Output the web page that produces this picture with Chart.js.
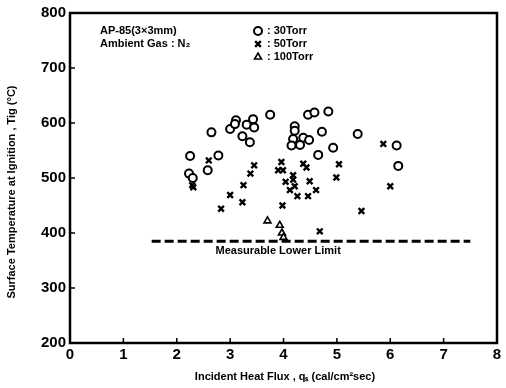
<!DOCTYPE html>
<html>
<head>
<meta charset="utf-8">
<script src="https://cdn.jsdelivr.net/npm/chart.js@4.4.0/dist/chart.umd.min.js"></script>
<style>
  body { margin: 0; background: #fff; }
</style>
</head>
<body>
<canvas id="chart" width="506" height="388"></canvas>
<script>
// 30 Torr (circles)
const flux30 = [2.25, 2.23, 2.30, 2.58, 2.65, 2.78, 3.00, 3.11, 3.09, 3.23, 3.37, 3.31, 3.43, 3.45, 3.75,
                4.21, 4.21, 4.18, 4.37, 4.48, 4.15, 4.31, 4.46, 4.58, 4.84, 4.72, 4.93, 4.65, 5.39, 6.12, 6.15];
const temp30 = [540, 508, 500, 514, 583, 541, 589, 605, 598, 576, 565, 597, 607, 592, 615,
                594, 586, 571, 573, 569, 559, 560, 615, 619, 621, 584, 555, 542, 580, 559, 522];

// 50 Torr (crosses)
const flux50 = [2.29, 2.31, 2.60, 2.83, 3.00, 3.23, 3.25, 3.38, 3.45, 3.90, 3.96, 3.99, 4.37, 4.43, 5.04,
                4.99, 4.18, 4.18, 4.04, 4.21, 4.49, 4.12, 4.26, 4.46, 4.61, 6.00, 3.98, 5.46, 4.68, 5.87];
const temp50 = [487, 483, 532, 444, 469, 456, 487, 508, 523, 514, 529, 514, 526, 519, 525,
                501, 505, 497, 493, 485, 494, 478, 467, 467, 478, 485, 450, 440, 403, 562];

// 100 Torr (triangles)
const flux100 = [3.70, 3.93, 3.97, 4.00];
const temp100 = [422, 414, 400, 392];

// measurable lower limit
const limitFlux = [1.53, 7.5];
const limitTemp = [385, 385];

const xTicks = [0, 1, 2, 3, 4, 5, 6, 7, 8];
const yTicks = [200, 300, 400, 500, 600, 700, 800];

const FONT = '"Liberation Sans", Arial, sans-serif';

function pts(xs, ys) {
    return xs.map((v, i) => ({ x: v, y: ys[i] }));
}

// frame, inward ticks and text labels
const decor = {
    id: 'decor',
    afterDatasetsDraw(chart) {
        const { ctx, chartArea: a, scales: { x, y } } = chart;
        ctx.save();
        ctx.strokeStyle = '#000';
        ctx.lineWidth = 2.5;
        ctx.strokeRect(a.left, a.top, a.right - a.left, a.bottom - a.top);

        ctx.lineWidth = 1.5;
        ctx.beginPath();
        xTicks.forEach(v => {
            const px = x.getPixelForValue(v);
            ctx.moveTo(px, a.bottom);
            ctx.lineTo(px, a.bottom - 5);
        });
        yTicks.forEach(v => {
            const py = y.getPixelForValue(v);
            ctx.moveTo(a.left, py);
            ctx.lineTo(a.left + 5, py);
        });
        ctx.stroke();

        ctx.fillStyle = '#000';
        ctx.textBaseline = 'middle';
        ctx.font = 'bold 11px ' + FONT;
        ctx.fillText('AP-85(3×3mm)', 100, 31);
        ctx.fillText('Ambient Gas : N₂', 100, 44);

        // legend
        const legendRows = [['circle', ': 30Torr', 31, 2], ['crossRot', ': 50Torr', 44, 2.4], ['triangle', ': 100Torr', 57, 1.6]];
        legendRows.forEach(r => {
            ctx.lineWidth = r[3];
            ctx.fillStyle = '#fff';
            ctx.strokeStyle = '#000';
            Chart.helpers.drawPoint(ctx, { pointStyle: r[0], radius: 4, rotation: 0, borderWidth: r[3] }, 258, r[2]);
            ctx.fillStyle = '#000';
            ctx.fillText(r[1], 267, r[2]);
        });

        // lower limit label
        ctx.textAlign = 'center';
        ctx.fillText('Measurable Lower Limit', x.getPixelForValue(3.9), y.getPixelForValue(385) + 10);

        // axis titles
        ctx.font = 'bold 11px ' + FONT;
        ctx.fillText('Incident Heat Flux , qₛ (cal/cm²sec)', 285, 377);
        ctx.translate(12, 192);
        ctx.rotate(-Math.PI / 2);
        ctx.fillText('Surface Temperature at Ignition , Tig (°C)', 0, 0);
        ctx.restore();
    }
};

new Chart(document.getElementById('chart'), {
    type: 'scatter',
    data: {
        datasets: [{
            label: '30Torr',
            data: pts(flux30, temp30),
            pointStyle: 'circle',
            pointRadius: 4,
            pointBorderWidth: 2,
            borderColor: '#000',
            backgroundColor: '#fff'
        }, {
            label: '50Torr',
            data: pts(flux50, temp50),
            pointStyle: 'crossRot',
            pointRadius: 4,
            pointBorderWidth: 2.4,
            borderColor: '#000',
            backgroundColor: '#000'
        }, {
            label: '100Torr',
            data: pts(flux100, temp100),
            pointStyle: 'triangle',
            pointRadius: 4,
            pointBorderWidth: 1.6,
            borderColor: '#000',
            backgroundColor: '#fff'
        }, {
            label: 'limit',
            type: 'line',
            data: pts(limitFlux, limitTemp),
            borderColor: '#000',
            borderWidth: 3,
            borderDash: [9, 4],
            pointRadius: 0,
            fill: false
        }]
    },
    options: {
        responsive: false,
        animation: false,
        layout: { padding: { left: 0, right: 9, top: 12, bottom: 0 } },
        plugins: {
            legend: { display: false },
            tooltip: { enabled: false }
        },
        scales: {
            x: {
                type: 'linear',
                min: 0,
                max: 8,
                afterFit: s => { s.height = 45; },
                grid: { display: false, drawTicks: false },
                border: { display: false },
                ticks: {
                    stepSize: 1,
                    padding: 3,
                    color: '#000',
                    font: { family: FONT, size: 15, weight: 'bold' }
                }
            },
            y: {
                min: 200,
                max: 800,
                afterFit: s => { s.width = 70; },
                grid: { display: false, drawTicks: false },
                border: { display: false },
                ticks: {
                    stepSize: 100,
                    padding: 4,
                    color: '#000',
                    font: { family: FONT, size: 15, weight: 'bold' }
                }
            }
        }
    },
    plugins: [decor]
});
</script>
</body>
</html>
